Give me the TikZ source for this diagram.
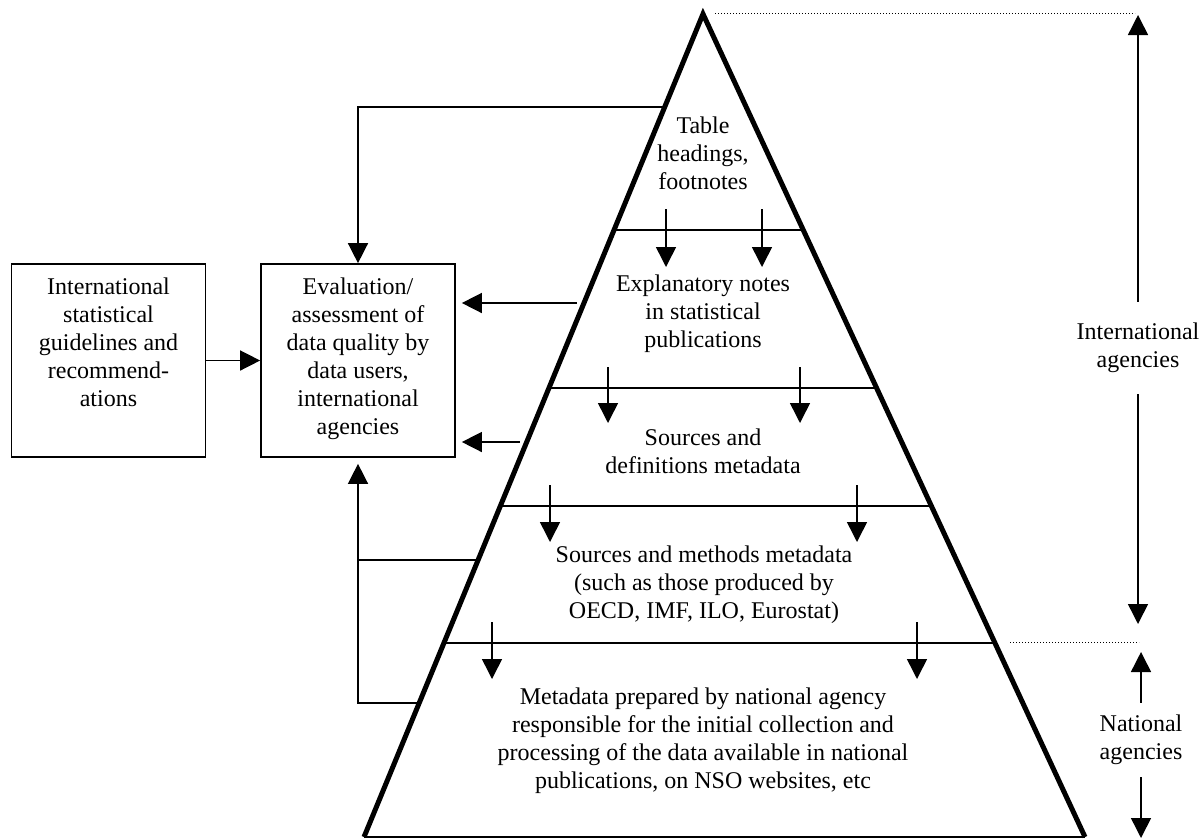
\documentclass[tikz,border=0pt]{standalone}
\usepackage{fontspec}
\setmainfont{Liberation Serif}
\usetikzlibrary{arrows.meta,calc}
\begin{document}
\begin{tikzpicture}[x=1pt,y=-1pt,
  thinline/.style={line width=1.5pt},
  edgeline/.style={line width=5pt,line join=miter,miter limit=20},
  arr/.style={line width=1.5pt,-{Triangle[length=20pt,width=20pt]}},
  txt/.style={align=center,font=\fontsize{24}{28}\selectfont,inner sep=0pt},
  box/.style={draw,line width=1.7pt,minimum width=194pt,minimum height=193pt,inner sep=0pt},
  dots/.style={line width=1pt,dash pattern=on 1pt off 2pt}]
\useasboundingbox (0,0) rectangle (1204,839);

% triangle
\coordinate (A) at (703,14);
\coordinate (BL) at (364,837);
\coordinate (BR) at (1085,837);
\draw[thinline] (BL) -- (BR);
\draw[edgeline] (BL) -- (A) -- (BR);

% dividers
\foreach \n/\t in {1/0.26245,2/0.45443,3/0.59781,4/0.76428}{
  \coordinate (dL\n) at ($(A)!\t!(BL)$);
  \coordinate (dR\n) at ($(A)!\t!(BR)$);
  \draw[thinline] (dL\n) -- (dR\n);
}

% left edge points
\coordinate (e107) at ($(A)!0.1130!(BL)$);
\coordinate (e303) at ($(A)!0.35115!(BL)$);
\coordinate (e442) at ($(A)!0.52005!(BL)$);
\coordinate (e560) at ($(A)!0.66343!(BL)$);
\coordinate (e703) at ($(A)!0.83718!(BL)$);

% section texts
\node[txt] (t1) at (703,153) {Table\\headings,\\footnotes};
\node[txt] (t2) at (703,314) {Explanatory notes\\in statistical\\publications};
\node[txt] (t3) at (703,451) {Sources and\\definitions metadata};
\node[txt] (t4) at (704,585) {Sources and methods metadata\\(such as those produced by\\OECD, IMF, ILO, Eurostat)};
\node[txt] (t5) at (703,741) {Metadata prepared by national agency\\responsible for the initial collection and\\processing of the data available in national\\publications, on NSO websites, etc};

% arrows between sections
\foreach \i/\x/\ya/\yb in {1/666/209/267, 2/762/209/267, 3/608/367/423, 4/800/367/423, 5/550/485/542, 6/857/485/542, 7/492/622/679, 8/917/622/679}{
  \coordinate (s\i) at (\x,\ya);
  \coordinate (f\i) at (\x,\yb);
  \draw[arr] (s\i) -- (f\i);
}

% boxes
\node[box] (b1) at (108.5,360.5) {};
\node[box] (b2) at (358,360.5) {};
\node[txt,anchor=north] (b1t) at ([yshift=-14pt]b1.north) {International\\statistical\\guidelines and\\recommend-\\ations};
\node[txt,anchor=north] (b2t) at ([yshift=-14pt]b2.north) {Evaluation/\\assessment of\\data quality by\\data users,\\international\\agencies};

% connectors to box 2
\draw[arr] (b1.east) -- (b2.west);
\draw[arr] (e107) -| (b2.north);
\draw[arr,shorten >=6pt] ([xshift=-7pt]e303) -- (b2.east |- e303);
\draw[arr,shorten >=6pt] ([xshift=-7pt]e442) -- (b2.east |- e442);
\draw[thinline] (e560) -- (b2.south |- e560);
\draw[arr,shorten >=6pt] (e703) -| (b2.south);

% right side
\coordinate (dt1) at (715,13);
\coordinate (dt2) at (1135,13);
\draw[dots] (dt1) -- (dt2);
\coordinate (dm1) at (1010,642);
\coordinate (dm2) at (1139,642);
\draw[dots] (dm1) -- (dm2);

\node[txt,inner ysep=21pt] (ia) at (1138,348) {International\\agencies};
\coordinate (iaTop) at (1138,15);
\coordinate (iaBot) at (1138,624);
\draw[arr] (ia.north) -- (iaTop);
\draw[arr] (ia.south) -- (iaBot);

\node[txt,inner ysep=12pt] (na) at (1141,740) {National\\agencies};
\coordinate (naTop) at (1141,652);
\coordinate (naBot) at (1141,838);
\draw[arr] (na.north) -- (naTop);
\draw[arr] (na.south) -- (naBot);
\end{tikzpicture}
\end{document}
